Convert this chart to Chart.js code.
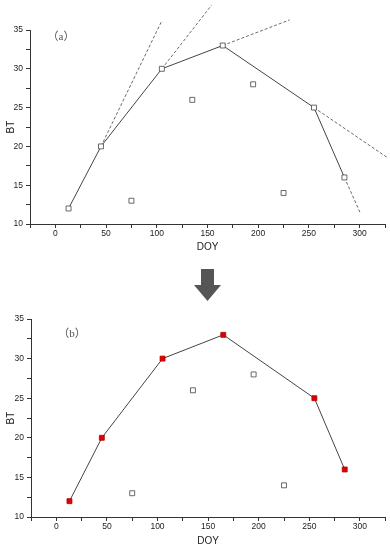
<!DOCTYPE html>
<html><head><meta charset="utf-8">
<script src="https://cdn.jsdelivr.net/npm/chart.js@4/dist/chart.umd.min.js"></script>
<style>
html,body{margin:0;padding:0;background:#fff;width:390px;height:550px;overflow:hidden;position:relative}
.box{position:absolute;left:0;width:390px}
#boxA{top:0;height:255px}
#boxB{top:300px;height:250px}
.lab{position:absolute;width:40px;text-align:center;font-family:'Liberation Serif','Noto Sans CJK SC',serif;font-size:11px;line-height:12px;color:#555;white-space:nowrap}
#arrow{position:absolute;left:0;top:0}
</style>
</head><body>
<div class="box" id="boxA"><canvas id="cA"></canvas></div>
<div class="box" id="boxB"><canvas id="cB"></canvas></div>
<div class="lab" style="left:41px;top:30px">（a）</div>
<div class="lab" style="left:52px;top:327px">（b）</div>
<svg id="arrow" width="390" height="550"><polygon points="201,269 214,269 214,285 221,285 207.5,301 194,285 201,285" fill="#555"/></svg>
<script>
// ---- data ----
const doy = [13, 45, 75, 105, 135, 165, 195, 225, 255, 285];
const bt  = [12, 20, 13, 30, 26, 33, 28, 14, 25, 16];
const envelopeDoy = [13, 45, 105, 165, 255, 285];
const envelopeBt  = [12, 20, 30, 33, 25, 16];
const otherDoy = [75, 135, 195, 225];
const otherBt  = [13, 26, 28, 14];
// extension (dashed) lines start at envelope points 2..6 and end here
const extEndDoy = [105, 154, 231, 328, 301];
const extEndBt  = [36.2, 38.2, 36.3, 18.5, 11.3];
const xTicksLabeled = [0, 50, 100, 150, 200, 250, 300];
const yTicksLabeled = [10, 15, 20, 25, 30, 35];

const pts = (xs, ys) => xs.map((x, i) => ({x: x, y: ys[i]}));
const tickFont = {family: "'Liberation Sans Narrow','Liberation Sans',Arial,sans-serif", size: 8.5};
const titleFont = {family: "'Liberation Sans Narrow','Liberation Sans',Arial,sans-serif", size: 10};

function build(id, cfg) {
  const datasets = [];
  datasets.push({
    data: pts(envelopeDoy, envelopeBt), showLine: true, borderColor: '#444', borderWidth: 1,
    pointStyle: 'rect', pointRadius: 3.5, pointBackgroundColor: cfg.envFill, pointBorderColor: cfg.envBorder,
    pointBorderWidth: 0.8, clip: false, order: 0, tension: 0
  });
  datasets.push({
    data: pts(otherDoy, otherBt), showLine: false,
    pointStyle: 'rect', pointRadius: 3.5, pointBackgroundColor: '#fff', pointBorderColor: '#444',
    pointBorderWidth: 0.8, clip: false, order: 1
  });
  if (cfg.ext) {
    for (let i = 0; i < extEndDoy.length; i++) {
      datasets.push({
        data: [{x: envelopeDoy[i + 1], y: envelopeBt[i + 1]}, {x: extEndDoy[i], y: extEndBt[i]}],
        showLine: true, borderColor: '#444', borderWidth: 0.8, borderDash: [3, 2],
        pointRadius: 0, clip: false, order: 2, tension: 0
      });
    }
  }
  return new Chart(document.getElementById(id), {
    type: 'scatter',
    data: {datasets: datasets},
    options: {
      responsive: true, maintainAspectRatio: false, animation: false,
      layout: {padding: cfg.pad},
      plugins: {legend: {display: false}, tooltip: {enabled: false}},
      scales: {
        x: {
          type: 'linear', min: -25, max: 325,
          afterFit: s => { s.height = cfg.xh; },
          border: {color: '#333', width: 1},
          grid: {drawOnChartArea: false, drawTicks: true, tickLength: 4, color: '#333'},
          ticks: {stepSize: 25, autoSkip: false, maxRotation: 0, padding: 1, color: '#222', font: tickFont,
                  callback: v => xTicksLabeled.includes(v) ? String(v) : ''},
          title: {display: true, text: 'DOY', color: '#222', font: titleFont, padding: {top: 0, bottom: cfg.xtp}}
        },
        y: {
          type: 'linear', min: 10, max: 35,
          afterFit: s => { s.width = cfg.yw; },
          border: {color: '#333', width: 1},
          grid: {drawOnChartArea: false, drawTicks: true, tickLength: 4, color: '#333'},
          ticks: {stepSize: 2.5, autoSkip: false, padding: 3, color: '#222', font: tickFont,
                  callback: v => yTicksLabeled.includes(v) ? String(v) : ''},
          title: {display: true, text: 'BT', color: '#222', font: titleFont, padding: {top: 5, bottom: 0}}
        }
      }
    }
  });
}

build('cA', {envFill: '#fff', envBorder: '#444', ext: true, pad: {left: 0, top: 30, right: 5, bottom: 0}, xh: 31, yw: 30, xtp: 2});
build('cB', {envFill: '#e00000', envBorder: '#b00000', ext: false, pad: {left: 0, top: 19, right: 4, bottom: 0}, xh: 33, yw: 31, xtp: 3});
</script>
</body></html>
